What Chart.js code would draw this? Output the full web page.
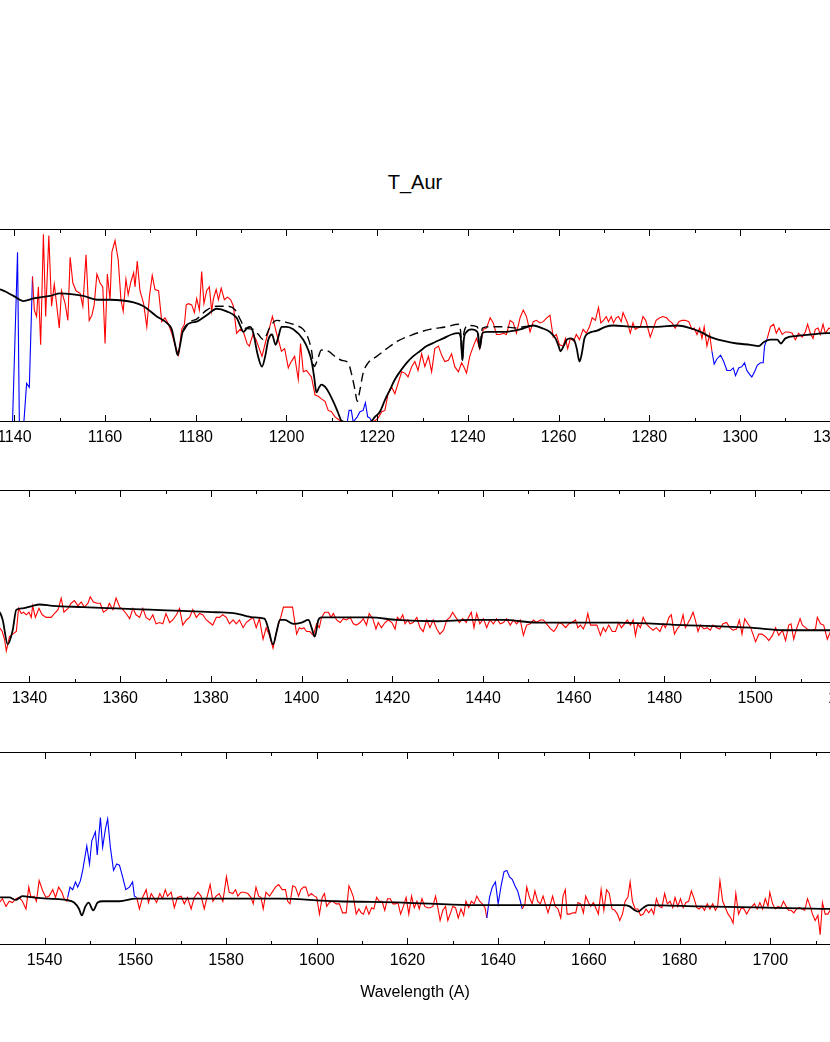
<!DOCTYPE html>
<html>
<head>
<meta charset="utf-8">
<title>T_Aur</title>
<script src="https://cdn.jsdelivr.net/npm/chart.js@4.4.1/dist/chart.umd.min.js"></script>
<style>
  body { margin: 0; background: #fff; width: 830px; height: 1042px; position: relative; overflow: hidden; font-family: "Liberation Sans", Arial, sans-serif; }
  canvas { position: absolute; left: -71px; }
  .lbl { position: absolute; left: 0; width: 830px; text-align: center; color: #000; white-space: nowrap; }
</style>
</head>
<body>
<div class="lbl" style="top:172px; font-size:20px; line-height:20px;">T_Aur</div>
<canvas id="p1" width="972" height="243" style="top:219px"></canvas>
<canvas id="p2" width="972" height="243" style="top:480px"></canvas>
<canvas id="p3" width="972" height="243" style="top:742px"></canvas>
<div class="lbl" style="top:984px; font-size:16px; line-height:16px;">Wavelength (A)</div>
<script>
// wavelength range of each panel (A)
const panelRanges = [[1130, 1326.67], [1326.67, 1523.33], [1523.33, 1720]];
// wavelength windows drawn in blue
const maskRanges = [[1129, 1143.9], [1213.4, 1218.4], [1293.8, 1305.4], [1545.05, 1559.8], [1637.5, 1644.9]];

// observed spectrum, [wavelength, flux]
const spec1 = [
  [1130,0],[1139.6,0],[1140.7,1.32],[1141.1,0],[1142.1,0],[1142.7,0.30],[1143.3,0.27],[1144.0,1.13],
  [1144.4,0.87],[1144.9,0.82],[1145.3,1.05],[1145.8,0.60],[1146.4,1.46],[1146.9,0.82],[1147.6,1.45],
  [1148.2,0.90],[1148.8,1.07],[1149.3,0.92],[1149.9,0.73],[1150.4,1.02],[1151.2,0.92],[1151.8,0.79],
  [1152.3,1.28],[1152.9,1.08],[1153.6,1.02],[1154.5,1.00],[1155.1,0.90],[1155.8,1.30],[1156.5,0.79],
  [1157.1,0.83],[1157.6,0.91],[1158.2,1.15],[1158.9,1.08],[1159.5,1.05],[1160.0,0.61],[1160.5,1.15],
  [1161.1,0.95],[1161.5,1.32],[1162.2,1.41],[1162.9,1.26],[1163.5,0.95],[1164.0,0.86],[1164.6,1.11],
  [1165.1,0.99],[1165.7,1.09],[1166.3,1.16],[1166.6,1.05],[1167.1,1.25],[1167.7,1.02],[1168.5,0.92],
  [1169.2,0.74],[1169.8,0.98],[1170.4,1.14],[1171.0,1.03],[1171.8,1.02],[1172.5,0.78],[1173.2,0.81],
  [1174.0,0.76],[1174.7,0.69],[1175.4,0.60],[1176.2,0.52],[1176.9,0.72],[1177.5,0.76],[1177.9,0.91],
  [1178.4,0.92],[1179.1,0.91],[1179.7,0.85],[1180.2,0.96],[1180.8,0.87],[1181.3,1.17],[1181.8,0.92],
  [1182.4,1.02],[1183.0,1.05],[1183.5,0.86],[1183.9,0.96],[1184.5,1.03],[1185.0,0.95],[1185.6,1.04],
  [1186.3,0.95],[1187.0,0.97],[1187.7,0.95],[1188.3,0.90],[1189.0,0.69],[1189.8,0.72],[1190.5,0.70],
  [1191.3,0.61],[1191.8,0.59],[1192.6,0.68],[1193.3,0.64],[1193.8,0.59],[1194.6,0.51],[1195.3,0.61],
  [1196.0,0.70],[1196.9,0.82],[1197.8,0.69],[1198.9,0.55],[1199.6,0.57],[1200.4,0.42],[1200.9,0.46],
  [1201.8,0.51],[1202.6,0.33],[1203.1,0.61],[1203.7,0.39],[1204.4,0.40],[1205.5,0.35],[1206.3,0.21],
  [1207.0,0.20],[1207.7,0.18],[1208.5,0.16],[1209.2,0.09],[1209.9,0.08],[1210.7,0.04],[1211.8,0.01],
  [1212.9,0],[1213.4,0],[1213.8,0.09],[1214.3,0.09],[1214.7,0],[1215.6,0.04],[1216.2,0.08],
  [1216.9,0.09],[1217.4,0.15],[1217.9,0.04],[1218.4,0.03],[1218.8,0],[1219.5,0.01],[1220.2,0.03],
  [1221.0,0.08],[1221.7,0.09],[1222.4,0.22],[1223.2,0.27],[1223.9,0.22],[1224.6,0.30],[1225.4,0.39],
  [1226.1,0.38],[1226.8,0.35],[1227.6,0.43],[1228.3,0.47],[1229.0,0.40],[1229.8,0.53],[1230.5,0.43],
  [1231.3,0.51],[1232.0,0.39],[1232.7,0.57],[1233.5,0.59],[1234.2,0.52],[1234.9,0.47],[1235.7,0.48],
  [1236.4,0.53],[1237.1,0.43],[1237.9,0.39],[1238.6,0.46],[1239.1,0.43],[1239.7,0.38],[1240.4,0.51],
  [1241.2,0.59],[1241.9,0.65],[1242.6,0.57],[1243.4,0.72],[1244.1,0.73],[1244.9,0.81],[1245.6,0.77],
  [1246.3,0.68],[1247.1,0.68],[1247.8,0.69],[1248.5,0.68],[1249.3,0.79],[1250.0,0.77],[1250.7,0.69],
  [1251.5,0.81],[1252.2,0.87],[1252.9,0.82],[1253.7,0.70],[1254.4,0.78],[1255.1,0.79],[1255.9,0.77],
  [1256.6,0.78],[1257.4,0.81],[1258.1,0.83],[1258.8,0.66],[1259.5,0.68],[1260.2,0.60],[1261.0,0.59],
  [1261.5,0.65],[1262.0,0.57],[1262.6,0.65],[1263.3,0.63],[1263.9,0.68],[1264.6,0.64],[1265.4,0.72],
  [1266.1,0.69],[1266.8,0.74],[1267.4,0.81],[1268.1,0.79],[1268.8,0.89],[1269.3,0.77],[1269.9,0.79],
  [1270.5,0.82],[1271.0,0.78],[1271.6,0.82],[1272.1,0.77],[1272.7,0.81],[1273.2,0.82],[1273.8,0.78],
  [1274.2,0.85],[1274.7,0.81],[1275.2,0.77],[1275.8,0.69],[1276.4,0.77],[1276.9,0.72],[1277.4,0.73],
  [1278.0,0.74],[1278.6,0.82],[1279.2,0.79],[1279.6,0.74],[1280.2,0.66],[1280.8,0.72],[1281.5,0.79],
  [1282.3,0.81],[1283.0,0.82],[1283.8,0.81],[1284.3,0.79],[1285.0,0.77],[1285.7,0.73],[1286.5,0.78],
  [1287.2,0.79],[1287.9,0.79],[1288.7,0.78],[1289.4,0.72],[1289.9,0.73],[1290.5,0.68],[1291.1,0.73],
  [1291.6,0.65],[1292.1,0.74],[1292.7,0.59],[1293.3,0.68],[1293.8,0.55],[1294.3,0.45],[1294.9,0.49],
  [1295.7,0.52],[1296.4,0.47],[1297.1,0.40],[1297.9,0.40],[1298.5,0.42],[1299.0,0.36],[1299.7,0.42],
  [1300.4,0.43],[1301.0,0.46],[1301.5,0.40],[1302.1,0.37],[1302.6,0.35],[1303.2,0.39],[1303.8,0.44],
  [1304.5,0.46],[1305.1,0.46],[1305.4,0.59],[1306.0,0.65],[1306.7,0.74],[1307.4,0.76],[1308.0,0.69],
  [1308.6,0.73],[1309.3,0.68],[1310.0,0.70],[1310.7,0.70],[1311.5,0.69],[1312.2,0.64],[1312.9,0.69],
  [1313.7,0.66],[1314.4,0.70],[1314.9,0.76],[1315.5,0.69],[1316.1,0.65],[1316.6,0.72],[1317.2,0.73],
  [1317.7,0.68],[1318.3,0.76],[1318.8,0.69],[1319.6,0.73],[1321.0,0.70],[1323.0,0.72],[1325.0,0.68],
  [1326.7,0.70]
];
const spec2 = [
  [1326.7,0.44],[1327.8,0.47],[1329.0,0.40],[1330.2,0.45],[1331.4,0.42],[1332.5,0.46],[1333.4,0.43],
  [1334.0,0.40],[1334.5,0.34],[1334.9,0.25],[1335.6,0.36],[1336.3,0.38],[1337.1,0.40],[1337.6,0.58],
  [1338.2,0.54],[1338.7,0.55],[1339.3,0.53],[1339.9,0.55],[1340.4,0.51],[1340.7,0.60],[1341.3,0.51],
  [1342.1,0.58],[1342.8,0.53],[1343.7,0.51],[1344.8,0.51],[1345.5,0.54],[1346.3,0.57],[1347.0,0.66],
  [1347.6,0.55],[1348.5,0.58],[1349.2,0.62],[1349.9,0.64],[1350.7,0.60],[1351.4,0.63],[1352.1,0.59],
  [1352.9,0.62],[1353.4,0.67],[1354.1,0.63],[1354.9,0.62],[1355.6,0.62],[1356.3,0.55],[1357.1,0.57],
  [1357.6,0.62],[1358.4,0.57],[1359.1,0.66],[1359.9,0.59],[1360.6,0.57],[1361.3,0.54],[1362.1,0.50],
  [1362.8,0.58],[1363.5,0.53],[1364.3,0.51],[1365.0,0.58],[1365.7,0.51],[1366.5,0.49],[1367.2,0.53],
  [1367.9,0.46],[1368.7,0.47],[1369.4,0.46],[1370.1,0.54],[1370.9,0.47],[1371.6,0.49],[1372.4,0.53],
  [1373.1,0.58],[1373.8,0.45],[1374.6,0.49],[1375.3,0.51],[1376.0,0.57],[1376.8,0.51],[1377.5,0.54],
  [1378.2,0.53],[1379.0,0.49],[1379.7,0.47],[1380.4,0.45],[1381.2,0.51],[1381.9,0.51],[1382.6,0.53],
  [1383.4,0.51],[1384.1,0.46],[1384.9,0.49],[1385.6,0.46],[1386.3,0.49],[1387.1,0.43],[1387.8,0.47],
  [1388.5,0.49],[1389.3,0.51],[1390.0,0.43],[1390.7,0.50],[1391.5,0.34],[1392.2,0.43],[1392.9,0.37],
  [1393.7,0.27],[1394.6,0.42],[1395.4,0.51],[1396.0,0.59],[1397.1,0.59],[1398.0,0.59],[1398.9,0.38],
  [1399.5,0.43],[1400.0,0.42],[1400.5,0.43],[1401.1,0.40],[1401.8,0.40],[1402.6,0.37],[1403.3,0.46],
  [1403.9,0.43],[1404.4,0.51],[1405.1,0.55],[1405.9,0.55],[1406.5,0.51],[1407.0,0.54],[1407.7,0.49],
  [1408.5,0.47],[1409.2,0.50],[1409.9,0.49],[1410.7,0.51],[1411.4,0.46],[1412.1,0.45],[1412.9,0.47],
  [1413.6,0.50],[1414.3,0.45],[1414.9,0.54],[1415.7,0.50],[1416.4,0.42],[1416.9,0.47],[1417.6,0.43],
  [1418.4,0.47],[1419.1,0.49],[1419.9,0.47],[1420.6,0.42],[1421.1,0.51],[1421.7,0.49],[1422.3,0.53],
  [1422.8,0.46],[1423.4,0.49],[1423.9,0.46],[1424.6,0.47],[1425.4,0.51],[1426.1,0.43],[1426.8,0.40],
  [1427.6,0.49],[1428.3,0.43],[1429.0,0.49],[1429.8,0.42],[1430.5,0.38],[1431.3,0.41],[1432.0,0.49],
  [1432.7,0.51],[1433.3,0.55],[1434.0,0.51],[1434.8,0.47],[1435.5,0.50],[1436.3,0.47],[1436.8,0.51],
  [1437.4,0.55],[1438.0,0.43],[1438.6,0.54],[1439.3,0.46],[1440.1,0.50],[1440.8,0.43],[1441.5,0.49],
  [1442.3,0.46],[1443.0,0.50],[1443.8,0.46],[1444.5,0.47],[1445.2,0.50],[1446.0,0.45],[1446.7,0.49],
  [1447.4,0.46],[1448.2,0.49],[1448.9,0.37],[1449.6,0.45],[1450.4,0.46],[1451.1,0.49],[1451.8,0.47],
  [1452.6,0.49],[1453.3,0.49],[1454.0,0.46],[1454.9,0.42],[1455.6,0.40],[1456.2,0.43],[1456.7,0.47],
  [1457.4,0.46],[1458.2,0.43],[1458.9,0.46],[1459.6,0.47],[1460.4,0.49],[1460.9,0.43],[1461.5,0.45],
  [1462.1,0.42],[1462.6,0.46],[1463.1,0.54],[1463.7,0.45],[1464.4,0.45],[1465.1,0.45],[1465.9,0.37],
  [1466.5,0.43],[1467.0,0.40],[1467.7,0.45],[1468.5,0.40],[1469.2,0.40],[1469.9,0.47],[1470.5,0.43],
  [1471.2,0.46],[1471.8,0.49],[1472.5,0.45],[1473.1,0.49],[1473.6,0.37],[1474.1,0.46],[1474.7,0.43],
  [1475.3,0.51],[1476.0,0.46],[1476.8,0.43],[1477.5,0.41],[1478.2,0.43],[1479.0,0.40],[1479.7,0.46],
  [1480.2,0.43],[1481.0,0.51],[1481.5,0.53],[1482.2,0.38],[1482.8,0.42],[1483.5,0.45],[1484.1,0.53],
  [1484.6,0.43],[1485.1,0.46],[1485.7,0.50],[1486.3,0.55],[1486.8,0.49],[1487.4,0.40],[1487.9,0.45],
  [1488.7,0.42],[1489.4,0.43],[1490.1,0.41],[1490.7,0.45],[1491.5,0.43],[1492.2,0.42],[1492.9,0.46],
  [1493.7,0.47],[1494.4,0.43],[1495.1,0.41],[1495.9,0.42],[1496.5,0.49],[1497.1,0.38],[1497.7,0.50],
  [1498.4,0.46],[1499.0,0.43],[1499.6,0.37],[1500.1,0.32],[1500.8,0.38],[1501.5,0.38],[1502.3,0.36],
  [1503.0,0.33],[1503.8,0.37],[1504.5,0.43],[1505.2,0.37],[1506.0,0.41],[1506.7,0.33],[1507.4,0.45],
  [1507.9,0.46],[1508.5,0.34],[1509.1,0.42],[1509.9,0.50],[1510.4,0.45],[1511.1,0.43],[1511.8,0.41],
  [1512.6,0.41],[1513.3,0.42],[1513.7,0.51],[1514.4,0.46],[1515.1,0.45],[1515.9,0.34],[1516.6,0.40],
  [1518.0,0.43],[1520.0,0.40],[1522.0,0.44],[1523.3,0.42]
];
const spec3 = [
  [1523.3,0.35],[1524.5,0.31],[1525.8,0.37],[1527.0,0.33],[1528.3,0.36],[1529.2,0.30],[1530.0,0.33],
  [1530.7,0.36],[1531.5,0.30],[1532.2,0.34],[1532.9,0.33],[1533.7,0.36],[1534.4,0.37],[1535.1,0.34],
  [1535.9,0.28],[1536.5,0.45],[1537.0,0.37],[1537.7,0.38],[1538.2,0.34],[1538.8,0.50],[1539.6,0.42],
  [1540.3,0.37],[1541.0,0.38],[1541.8,0.43],[1542.4,0.37],[1543.1,0.45],[1543.8,0.41],[1544.3,0.36],
  [1544.9,0.34],[1545.1,0.37],[1545.6,0.45],[1546.2,0.43],[1546.8,0.49],[1547.3,0.45],[1547.9,0.50],
  [1548.4,0.58],[1549.3,0.77],[1549.9,0.63],[1550.4,0.81],[1551.2,0.88],[1551.6,0.70],[1552.3,0.99],
  [1552.8,0.76],[1553.4,0.90],[1553.9,0.98],[1554.5,0.76],[1555.2,0.58],[1555.9,0.63],[1556.5,0.62],
  [1557.2,0.53],[1557.9,0.43],[1558.7,0.45],[1559.4,0.49],[1559.8,0.38],[1560.3,0.37],[1560.9,0.28],
  [1561.6,0.37],[1562.4,0.43],[1562.9,0.33],[1563.5,0.40],[1564.2,0.36],[1564.7,0.33],[1565.4,0.40],
  [1566.0,0.36],[1566.6,0.43],[1567.1,0.38],[1567.9,0.41],[1568.6,0.29],[1569.3,0.37],[1570.1,0.38],
  [1570.8,0.32],[1571.5,0.37],[1572.3,0.28],[1573.0,0.37],[1573.8,0.41],[1574.5,0.38],[1575.2,0.28],
  [1576.0,0.40],[1576.5,0.47],[1577.1,0.34],[1577.8,0.38],[1578.5,0.40],[1579.3,0.34],[1580.1,0.53],
  [1580.7,0.41],[1581.5,0.40],[1582.1,0.43],[1582.6,0.38],[1583.3,0.41],[1584.0,0.41],[1584.8,0.40],
  [1585.5,0.37],[1586.0,0.32],[1586.6,0.45],[1587.2,0.38],[1587.7,0.37],[1588.2,0.28],[1588.8,0.41],
  [1589.6,0.38],[1590.9,0.45],[1591.6,0.47],[1592.4,0.43],[1593.1,0.43],[1593.6,0.34],[1594.1,0.32],
  [1594.7,0.46],[1595.3,0.45],[1596.0,0.38],[1596.5,0.43],[1597.1,0.45],[1597.6,0.45],[1598.2,0.38],
  [1598.8,0.40],[1599.5,0.38],[1600.0,0.37],[1600.6,0.24],[1601.2,0.37],[1601.7,0.40],[1602.2,0.30],
  [1602.8,0.33],[1603.5,0.34],[1604.3,0.32],[1605.0,0.32],[1605.7,0.25],[1606.5,0.25],[1607.1,0.46],
  [1607.6,0.42],[1608.1,0.37],[1608.7,0.24],[1609.3,0.28],[1609.8,0.25],[1610.3,0.24],[1610.9,0.30],
  [1611.5,0.24],[1612.1,0.29],[1612.6,0.28],[1613.2,0.37],[1613.8,0.34],[1614.4,0.34],[1615.0,0.27],
  [1615.6,0.36],[1616.2,0.36],[1616.8,0.32],[1617.4,0.32],[1617.9,0.33],[1618.5,0.24],[1619.1,0.30],
  [1619.7,0.37],[1620.3,0.24],[1620.9,0.38],[1621.5,0.29],[1622.1,0.34],[1622.6,0.28],[1623.2,0.36],
  [1623.8,0.30],[1624.4,0.29],[1625.0,0.29],[1625.6,0.30],[1626.2,0.38],[1626.7,0.29],[1627.2,0.19],
  [1627.8,0.27],[1628.4,0.30],[1628.9,0.19],[1629.5,0.25],[1630.0,0.30],[1630.6,0.29],[1631.2,0.21],
  [1631.8,0.28],[1632.4,0.23],[1632.9,0.34],[1633.5,0.29],[1634.1,0.34],[1634.7,0.32],[1635.3,0.38],
  [1635.9,0.34],[1636.5,0.32],[1637.1,0.29],[1637.5,0.21],[1638.1,0.37],[1638.7,0.45],[1639.4,0.49],
  [1640.0,0.32],[1640.7,0.47],[1641.3,0.57],[1641.9,0.58],[1642.5,0.53],[1643.1,0.51],[1643.7,0.46],
  [1644.3,0.42],[1644.9,0.34],[1645.3,0.28],[1645.9,0.32],[1646.3,0.45],[1646.9,0.37],[1647.5,0.32],
  [1648.1,0.42],[1648.7,0.34],[1649.3,0.32],[1649.9,0.38],[1650.4,0.32],[1651.0,0.25],[1652.0,0.38],
  [1652.6,0.30],[1653.2,0.28],[1653.8,0.21],[1654.3,0.38],[1654.8,0.43],[1655.2,0.24],[1655.8,0.24],
  [1656.5,0.25],[1657.1,0.25],[1657.6,0.33],[1658.2,0.32],[1658.8,0.25],[1659.3,0.38],[1659.9,0.33],
  [1660.4,0.30],[1661.0,0.33],[1661.5,0.29],[1662.1,0.24],[1662.7,0.43],[1663.3,0.27],[1663.9,0.43],
  [1664.5,0.40],[1665.1,0.28],[1665.7,0.27],[1666.3,0.24],[1666.8,0.19],[1667.4,0.24],[1668.0,0.34],
  [1668.6,0.37],[1669.1,0.49],[1669.6,0.34],[1670.2,0.28],[1670.8,0.28],[1671.4,0.23],[1672.0,0.24],
  [1672.6,0.28],[1673.2,0.25],[1673.8,0.28],[1674.3,0.24],[1674.9,0.36],[1675.5,0.30],[1676.1,0.29],
  [1676.7,0.40],[1677.3,0.32],[1677.9,0.34],[1678.5,0.29],[1679.0,0.37],[1679.6,0.30],[1680.2,0.36],
  [1680.8,0.29],[1681.4,0.33],[1682.0,0.34],[1682.6,0.42],[1683.2,0.36],[1683.8,0.29],[1684.3,0.28],
  [1684.9,0.30],[1685.5,0.27],[1686.1,0.32],[1686.7,0.28],[1687.3,0.32],[1687.9,0.27],[1688.4,0.30],
  [1688.9,0.50],[1689.5,0.34],[1690.1,0.29],[1690.7,0.24],[1691.3,0.21],[1691.8,0.17],[1692.4,0.40],
  [1693.0,0.24],[1693.6,0.29],[1694.2,0.28],[1694.8,0.24],[1695.4,0.28],[1696.0,0.30],[1696.5,0.32],
  [1697.1,0.28],[1697.7,0.33],[1698.3,0.28],[1698.9,0.36],[1699.5,0.30],[1699.9,0.41],[1700.5,0.32],
  [1701.1,0.28],[1701.7,0.30],[1702.3,0.29],[1702.9,0.34],[1703.5,0.30],[1704.0,0.27],[1704.6,0.27],
  [1705.2,0.25],[1705.8,0.28],[1706.4,0.29],[1707.0,0.28],[1707.6,0.27],[1708.2,0.36],[1708.8,0.30],
  [1709.3,0.24],[1709.9,0.19],[1710.5,0.23],[1711.0,0.08],[1711.5,0.33],[1712.1,0.24],[1712.7,0.24],
  [1713.2,0.27],[1715.0,0.25],[1717.0,0.30],[1719.0,0.27],[1720.0,0.28]
];

// model spectrum (solid)
const model1 = [
  [1130,1.05],[1136.8,1.03],[1139.8,0.98],[1142.0,0.94],[1144.2,0.96],[1147.9,0.98],[1150.1,1.00],
  [1155.2,0.98],[1158.2,0.95],[1161.1,0.95],[1166.3,0.93],[1168.5,0.90],[1171.4,0.82],[1173.6,0.77],
  [1174.7,0.72],[1175.4,0.61],[1176.0,0.52],[1176.5,0.59],[1177.1,0.70],[1178.8,0.77],[1180.2,0.78],
  [1182.4,0.83],[1184.6,0.88],[1186.8,0.86],[1189.0,0.81],[1189.9,0.74],[1190.5,0.70],[1191.3,0.73],
  [1192.0,0.74],[1192.7,0.69],[1193.6,0.53],[1194.6,0.43],[1195.3,0.51],[1196.0,0.64],[1196.8,0.68],
  [1197.6,0.60],[1198.2,0.66],[1198.9,0.74],[1200.0,0.74],[1201.5,0.72],[1203.7,0.64],[1204.8,0.56],
  [1205.5,0.48],[1206.1,0.35],[1206.6,0.23],[1207.2,0.27],[1207.7,0.29],[1208.8,0.26],[1210.3,0.16],
  [1211.4,0.07],[1212.1,0.01],[1212.9,0],[1218.4,0],[1219.5,0.04],[1220.6,0.08],[1221.7,0.17],
  [1222.8,0.25],[1223.9,0.33],[1225.0,0.39],[1226.5,0.46],[1227.9,0.51],[1229.4,0.55],[1230.9,0.59],
  [1232.7,0.62],[1234.6,0.65],[1236.4,0.68],[1237.9,0.69],[1238.4,0.66],[1238.8,0.48],[1239.1,0.64],
  [1239.7,0.70],[1240.8,0.72],[1242.1,0.70],[1242.6,0.57],[1243.2,0.69],[1244.1,0.70],[1247.8,0.70],
  [1251.5,0.72],[1254.4,0.75],[1256.3,0.73],[1258.1,0.70],[1259.3,0.65],[1260.0,0.59],[1260.4,0.55],
  [1261.1,0.59],[1261.8,0.64],[1262.6,0.65],[1263.5,0.63],[1264.0,0.57],[1264.6,0.47],[1265.1,0.53],
  [1265.7,0.65],[1266.6,0.69],[1268.5,0.71],[1270.3,0.74],[1272.1,0.75],[1276.5,0.74],[1281.7,0.74],
  [1286.1,0.75],[1289.0,0.73],[1291.3,0.70],[1293.5,0.66],[1296.4,0.63],[1299.3,0.61],[1302.3,0.60],
  [1304.1,0.59],[1305.2,0.62],[1306.7,0.64],[1308.2,0.64],[1309.0,0.61],[1310.0,0.65],[1312.6,0.67],
  [1315.5,0.68],[1319.2,0.69],[1326.7,0.69]
];
// second model around Lyman alpha (dashed)
const model1b = [
  [1177.1,0.70],[1178.8,0.78],[1180.2,0.80],[1182.4,0.87],[1184.6,0.90],[1186.8,0.90],[1188.7,0.87],
  [1189.9,0.79],[1190.9,0.73],[1192.7,0.72],[1193.8,0.68],[1194.9,0.64],[1196.4,0.74],[1197.8,0.79],
  [1200.4,0.77],[1202.2,0.75],[1203.7,0.72],[1204.8,0.65],[1205.5,0.56],[1206.1,0.43],[1206.8,0.48],
  [1207.7,0.56],[1209.2,0.55],[1210.7,0.51],[1212.1,0.48],[1213.6,0.46],[1214.3,0.38],[1215.1,0.25],
  [1215.6,0.16],[1216.2,0.25],[1216.9,0.38],[1218.0,0.46],[1219.9,0.51],[1222.1,0.57],[1224.6,0.63],
  [1227.9,0.68],[1231.6,0.72],[1235.3,0.74],[1237.9,0.76],[1238.4,0.70],[1238.8,0.48],[1239.1,0.69],
  [1240.1,0.75],[1242.1,0.74],[1242.6,0.59],[1243.2,0.73],[1244.9,0.74],[1247.8,0.74],[1250.7,0.73],
  [1252.2,0.74],[1254.4,0.75]
];
const model2 = [
  [1326.7,0.58],[1330.0,0.57],[1332.5,0.56],[1333.4,0.55],[1334.1,0.49],[1335.2,0.30],[1336.3,0.41],
  [1337.1,0.57],[1338.5,0.58],[1340.7,0.60],[1342.2,0.61],[1345.1,0.60],[1351.8,0.59],[1359.1,0.58],
  [1366.5,0.57],[1373.8,0.56],[1381.2,0.55],[1385.6,0.54],[1387.8,0.52],[1389.3,0.51],[1391.8,0.50],
  [1392.6,0.43],[1393.7,0.30],[1394.5,0.40],[1395.2,0.49],[1396.3,0.49],[1398.2,0.46],[1400.0,0.47],
  [1401.5,0.49],[1402.2,0.43],[1402.9,0.36],[1403.7,0.49],[1404.4,0.51],[1409.9,0.51],[1415.1,0.51],
  [1421.0,0.49],[1429.8,0.48],[1437.1,0.49],[1444.5,0.49],[1451.8,0.47],[1454.9,0.47],[1469.6,0.47],
  [1484.3,0.45],[1499.0,0.43],[1506.3,0.41],[1516.6,0.41],[1523.3,0.40]
];
const model3 = [
  [1523.3,0.37],[1527.0,0.37],[1530.0,0.37],[1532.2,0.37],[1533.7,0.35],[1535.1,0.38],[1537.4,0.37],
  [1541.0,0.36],[1544.7,0.35],[1546.5,0.33],[1547.6,0.28],[1548.2,0.23],[1549.0,0.30],[1549.7,0.33],
  [1550.7,0.27],[1551.7,0.33],[1552.8,0.34],[1556.5,0.34],[1560.1,0.36],[1566.8,0.36],[1574.1,0.36],
  [1581.5,0.36],[1591.8,0.36],[1604.3,0.34],[1619.0,0.33],[1633.7,0.31],[1651.3,0.31],[1667.6,0.31],
  [1669.0,0.30],[1670.1,0.27],[1670.9,0.26],[1672.0,0.29],[1673.1,0.31],[1684.5,0.30],[1699.2,0.29],
  [1713.2,0.28],[1720.0,0.28]
];

const toXY = arr => arr.map(p => ({ x: p[0], y: p[1] }));
const inMask = w => maskRanges.some(r => w >= r[0] && w <= r[1]);

// frame and inward tick marks (every 10 A, longer every 20 A)
const frameTicks = {
  id: "frameTicks",
  afterDatasetsDraw(chart) {
    const { ctx, chartArea: a, scales: { x } } = chart;
    ctx.save();
    ctx.strokeStyle = "#000";
    ctx.lineWidth = 1;
    ctx.strokeRect(a.left + 0.5, a.top + 0.5, a.width - 1, a.height - 1);
    ctx.beginPath();
    for (let v = Math.ceil(x.min / 10) * 10; v <= x.max; v += 10) {
      const px = Math.round(x.getPixelForValue(v)) + 0.5;
      const len = v % 20 === 0 ? 7 : 4;
      ctx.moveTo(px, a.bottom);
      ctx.lineTo(px, a.bottom - len);
      ctx.moveTo(px, a.top);
      ctx.lineTo(px, a.top + len);
    }
    ctx.stroke();
    ctx.restore();
  },
};

function spectrumSet(arr) {
  return {
    data: toXY(arr),
    borderColor: "#ff0000",
    borderWidth: 1.1,
    segment: {
      borderColor: c => (inMask(arr[c.p0DataIndex][0]) ? "#0000ff" : "#ff0000"),
    },
  };
}

function modelSet(arr, dashed) {
  return {
    data: toXY(arr),
    borderColor: "#000",
    borderWidth: dashed ? 1.4 : 1.8,
    borderDash: dashed ? [9, 5] : [],
    cubicInterpolationMode: "monotone",
  };
}

function drawPanel(id, range, datasets) {
  new Chart(document.getElementById(id), {
    type: "line",
    data: { datasets: datasets },
    options: {
      responsive: false,
      animation: false,
      layout: { padding: { left: 40, right: 40, top: 10, bottom: 0 } },
      plugins: { legend: { display: false }, tooltip: { enabled: false } },
      elements: { point: { radius: 0 } },
      scales: {
        x: {
          type: "linear",
          min: range[0],
          max: range[1],
          grid: { display: false, drawTicks: false },
          border: { display: false },
          // labelled ticks every 20 A
          afterBuildTicks: s => {
            const t = [];
            for (let v = Math.ceil(range[0] / 20) * 20; v <= range[1]; v += 20) t.push({ value: v });
            s.ticks = t;
          },
          afterFit: s => { s.height = 40; },
          ticks: {
            padding: 6,
            autoSkip: false,
            maxRotation: 0,
            color: "#000",
            font: { family: "Liberation Sans", size: 16 },
            callback: v => String(v),
          },
        },
        y: { display: false, min: 0, max: 1.5 },
      },
    },
    plugins: [frameTicks],
  });
}

drawPanel("p1", panelRanges[0], [modelSet(model1, false), modelSet(model1b, true), spectrumSet(spec1)]);
drawPanel("p2", panelRanges[1], [modelSet(model2, false), spectrumSet(spec2)]);
drawPanel("p3", panelRanges[2], [modelSet(model3, false), spectrumSet(spec3)]);
</script>
</body>
</html>
